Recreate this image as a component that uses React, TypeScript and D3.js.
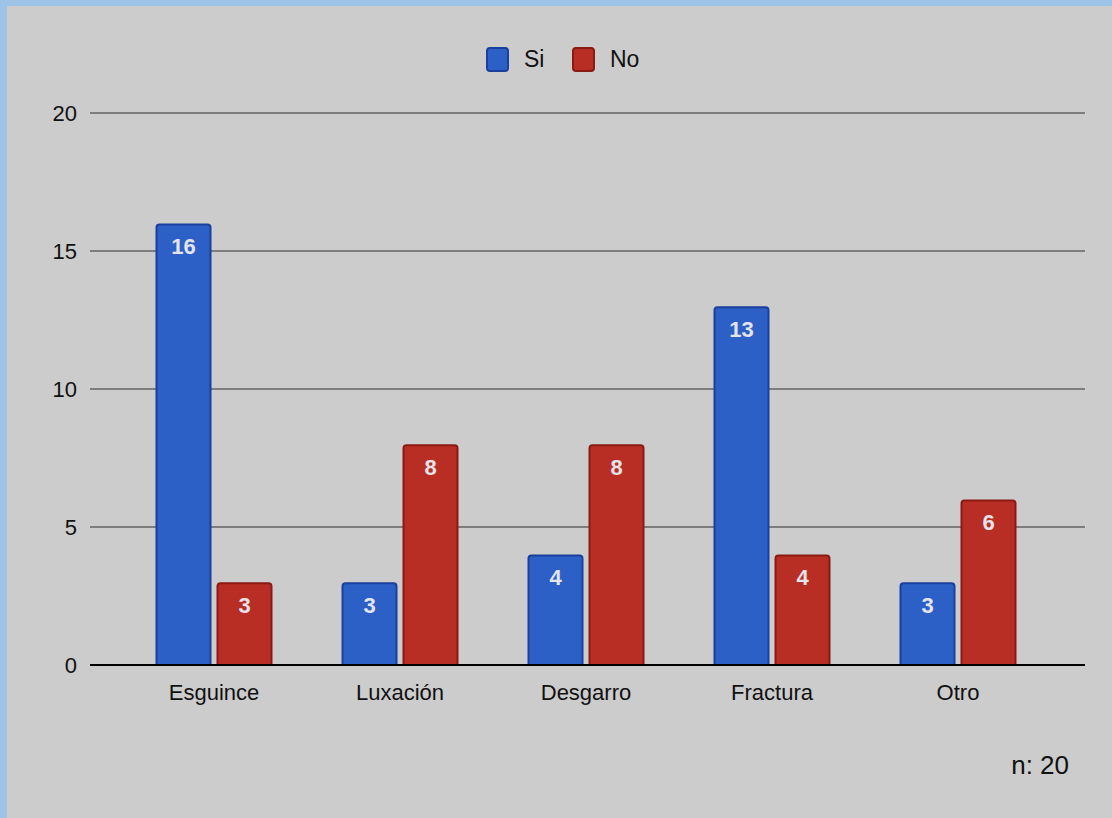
import React from "react";
import * as d3 from "d3";

const categories = ["Esguince", "Luxación", "Desgarro", "Fractura", "Otro"];
const siValues = [16, 3, 4, 13, 3];
const noValues = [3, 8, 8, 4, 6];
const seriesNames = ["Si", "No"];
const yTicks = [0, 5, 10, 15, 20];

const W = 1112;
const H = 818;
const FONT = "'Liberation Sans', Arial, Helvetica, sans-serif";

const colors = {
  Si: { fill: "#2d60c6", stroke: "#1b3f9c" },
  No: { fill: "#b82e24", stroke: "#8a1a12" },
};

export default function App() {
  const x = d3.scaleBand<string>().domain(categories).range([121, 1051]);
  const y = d3.scaleLinear().domain([0, 20]).range([665, 113]);
  const barW = 56;
  const gap = 5;

  const series = [
    { name: "Si", values: siValues, offset: -(barW + gap / 2) },
    { name: "No", values: noValues, offset: gap / 2 },
  ];

  return (
    <svg
      width={W}
      height={H}
      style={{ position: "absolute", left: 0, top: 0, display: "block" }}
      fontFamily={FONT}
    >
      <rect x={0} y={0} width={W} height={H} fill="#9dc3e6" />
      <rect x={7} y={6} width={W - 7} height={H - 6} fill="#cccccc" />

      {/* gridlines */}
      {yTicks
        .filter((t) => t !== 0)
        .map((t) => (
          <line
            key={t}
            x1={90}
            x2={1085}
            y1={y(t)}
            y2={y(t)}
            stroke="#7d7d7d"
            strokeWidth={2}
          />
        ))}

      {/* y tick labels */}
      {yTicks.map((t) => (
        <text
          key={t}
          x={77}
          y={y(t)}
          dy="0.35em"
          textAnchor="end"
          fontSize={22}
          fill="#111"
        >
          {t}
        </text>
      ))}

      {/* bars */}
      {series.map((s) =>
        categories.map((c, i) => {
          const cx = (x(c) as number) + x.bandwidth() / 2;
          const bx = cx + s.offset;
          const by = y(s.values[i]);
          const col = colors[s.name as "Si" | "No"];
          return (
            <g key={s.name + c}>
              <path
                d={`M${bx + 1},${y(0)} V${by + 4} Q${bx + 1},${by + 1} ${bx + 4},${by + 1} H${bx + barW - 4} Q${bx + barW - 1},${by + 1} ${bx + barW - 1},${by + 4} V${y(0)}`}
                fill={col.fill}
                stroke={col.stroke}
                strokeWidth={2}
              />
              <text
                x={bx + barW / 2}
                y={by + 23}
                dy="0.35em"
                textAnchor="middle"
                fontSize={22}
                fontWeight={700}
                fill="#e4e4ec"
              >
                {s.values[i]}
              </text>
            </g>
          );
        })
      )}

      {/* baseline */}
      <line x1={90} x2={1085} y1={y(0)} y2={y(0)} stroke="#000" strokeWidth={2} />

      {/* category labels */}
      {categories.map((c) => (
        <text
          key={c}
          x={(x(c) as number) + x.bandwidth() / 2}
          y={692}
          dy="0.35em"
          textAnchor="middle"
          fontSize={22}
          fill="#111"
        >
          {c}
        </text>
      ))}

      {/* legend */}
      {seriesNames.map((n, i) => {
        const lx = 487 + i * 86;
        const col = colors[n as "Si" | "No"];
        return (
          <g key={n}>
            <rect
              x={lx}
              y={48}
              width={21}
              height={23}
              rx={3}
              fill={col.fill}
              stroke={col.stroke}
              strokeWidth={2}
            />
            <text x={lx + 37} y={59} dy="0.35em" fontSize={23} fill="#111">
              {n}
            </text>
          </g>
        );
      })}

      <text x={1069} y={765} dy="0.35em" textAnchor="end" fontSize={26} fill="#111">
        n: 20
      </text>
    </svg>
  );
}
